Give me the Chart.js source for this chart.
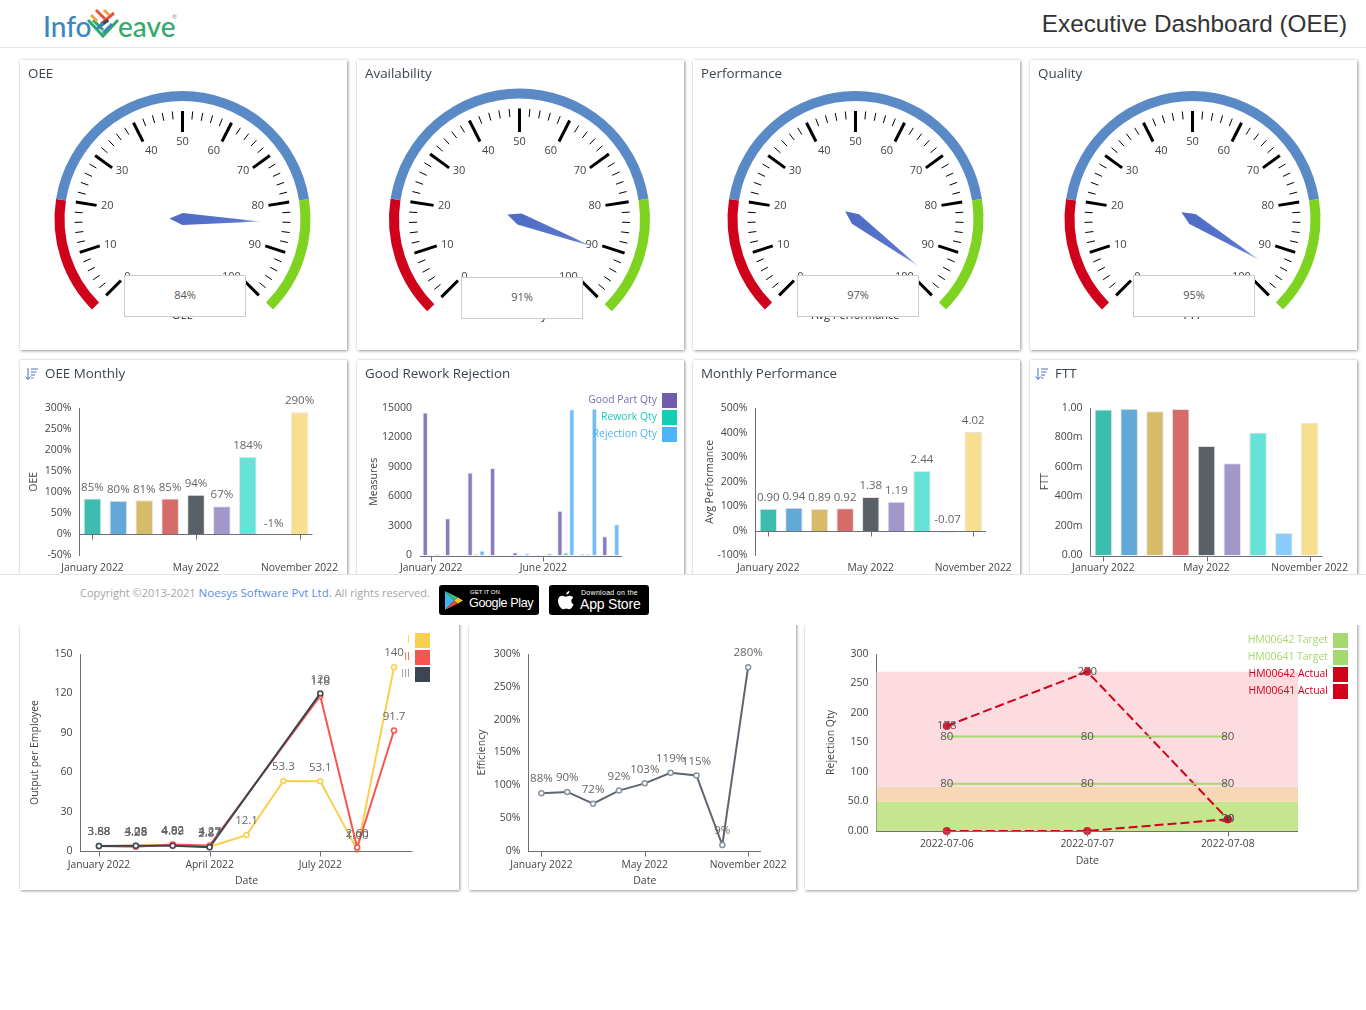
<!DOCTYPE html>
<html>
<head>
<meta charset="utf-8">
<title>Executive Dashboard (OEE)</title>
<script src="https://cdn.jsdelivr.net/npm/chart.js@4/dist/chart.umd.js"></script>
<style>
html, body { margin: 0; padding: 0; background: #fff; width: 1366px; height: 1010px; overflow: hidden; font-family: "Open Sans", sans-serif; }
#header { position: absolute; left: 0; top: 0; width: 1366px; height: 47px; border-bottom: 1px solid #e4e4e4; background: #fff; }
#pageTitle { position: absolute; right: 19px; top: 10px; font: 24.3px "Liberation Sans", Arial, sans-serif; color: #333; white-space: nowrap; }
.logoText { position: absolute; top: 9px; font: 500 28px Lato, sans-serif; white-space: nowrap; }
.card { position: absolute; background: #fff; box-shadow: 1px 1px 3px rgba(0,0,0,.38), 0 0 2px rgba(0,0,0,.12); }
.card canvas { position: absolute; left: 0; top: 0; }
.cardTitle { position: absolute; top: 3px; font-size: 13.4px; color: #3b4450; white-space: nowrap; line-height: 20px; }
.sortIcon { position: absolute; left: 5px; top: 8px; }
.gaugeBox { position: absolute; width: 120px; height: 40px; background: #fff; border: 1px solid #ccc; text-align: center; line-height: 38px; font-size: 11px; color: #555; }
.legend { position: absolute; right: 9px; }
.legendRow { height: 15px; margin-bottom: 2px; display: flex; justify-content: flex-end; align-items: center; font-size: 10.4px; white-space: nowrap; }
.legendRow span { position: relative; top: -2px; }
.legendRow i { display: inline-block; width: 15px; height: 15px; margin-left: 5px; }
#footer { position: absolute; left: 0; top: 574px; width: 1366px; height: 51px; background: #fff; border-top: 1px solid #e6e6e6; box-sizing: border-box; z-index: 5; }
#copyright { position: absolute; left: 80px; top: 10px; font-size: 11px; color: #a5a5a5; white-space: nowrap; line-height: 16px; }
#copyright span { color: #5b8def; font-size: 11.6px; }
.badge { position: absolute; top: 10px; width: 100px; height: 30px; background: #000; border-radius: 3px; color: #fff; font-family: "Liberation Sans", Arial, sans-serif; }
.badge b { position: absolute; font-weight: normal; white-space: nowrap; }
.badge svg { position: absolute; }
</style>
</head>
<body>

<div id="header">
  <div class="logoText" style="left:43px;color:#3a87bf">Info</div>
  <svg style="position:absolute;left:0;top:0" width="200" height="47" fill="none" stroke-width="3">
    <polyline points="88,20 103,36 118,20" stroke="#34a96a"/>
    <polyline points="93,20 103,30" stroke="#34a96a"/>
    <line x1="91" y1="15" x2="97" y2="21" stroke="#f2a53c"/>
    <line x1="104" y1="10" x2="109" y2="15" stroke="#f2a53c"/>
    <line x1="96" y1="10" x2="108" y2="22" stroke="#e2583e"/>
    <line x1="101" y1="24" x2="114" y2="13" stroke="#e2583e"/>
    <line x1="99" y1="27" x2="108" y2="20" stroke="#3a4653"/>
    <line x1="97" y1="29" x2="103" y2="23" stroke="#3a87bf"/>
    <line x1="103" y1="33" x2="112" y2="24" stroke="#3a87bf"/>
  </svg>
  <div class="logoText" style="left:118px;color:#34a96a">eave</div>
  <div style="position:absolute;left:172px;top:13px;font-size:6px;color:#888">®</div>
  <div id="pageTitle">Executive Dashboard (OEE)</div>
</div>

<div class="card" style="left:20px;top:60px;width:327px;height:290px"><canvas id="gauge0" width="327" height="290"></canvas><div class="cardTitle" style="left:8px">OEE</div><div class="gaugeBox" style="left:104px;top:215px">84%</div></div>
<div class="card" style="left:357px;top:60px;width:327px;height:290px"><canvas id="gauge1" width="327" height="290"></canvas><div class="cardTitle" style="left:8px">Availability</div><div class="gaugeBox" style="left:104px;top:217px;line-height:37px">91%</div></div>
<div class="card" style="left:693px;top:60px;width:327px;height:290px"><canvas id="gauge2" width="327" height="290"></canvas><div class="cardTitle" style="left:8px">Performance</div><div class="gaugeBox" style="left:104px;top:215px">97%</div></div>
<div class="card" style="left:1030px;top:60px;width:327px;height:290px"><canvas id="gauge3" width="327" height="290"></canvas><div class="cardTitle" style="left:8px">Quality</div><div class="gaugeBox" style="left:103px;top:215px">95%</div></div>

<div class="card" style="left:20px;top:360px;width:327px;height:260px"><canvas id="oeeMonthlyChart" width="327" height="260"></canvas><svg class="sortIcon" width="13" height="13" viewBox="0 0 13 13"><path d="M3 0v11M0.5 8.500L3 11.500L5.500 8.500M6 1h7M6 4h5.500M6 7h4M6 10h2.500" stroke="#4a6fc0" fill="none"/></svg><div class="cardTitle" style="left:25px">OEE Monthly</div></div>
<div class="card" style="left:357px;top:360px;width:327px;height:260px"><canvas id="goodReworkChart" width="327" height="260"></canvas><div class="cardTitle" style="left:8px">Good Rework Rejection</div><div class="legend" id="goodReworkLegend" style="top:33px;right:7px"></div></div>
<div class="card" style="left:693px;top:360px;width:327px;height:260px"><canvas id="perfChart" width="327" height="260"></canvas><div class="cardTitle" style="left:8px">Monthly Performance</div></div>
<div class="card" style="left:1030px;top:360px;width:327px;height:260px"><canvas id="fttChart" width="327" height="260"></canvas><svg class="sortIcon" width="13" height="13" viewBox="0 0 13 13"><path d="M3 0v11M0.5 8.500L3 11.500L5.500 8.500M6 1h7M6 4h5.500M6 7h4M6 10h2.500" stroke="#4a6fc0" fill="none"/></svg><div class="cardTitle" style="left:25px">FTT</div></div>

<div class="card" style="left:20px;top:600px;width:439px;height:290px"><canvas id="outputChart" width="439" height="290"></canvas><div class="legend" id="outputLegend" style="top:33px;right:29px"></div></div>
<div class="card" style="left:469px;top:600px;width:327px;height:290px"><canvas id="efficiencyChart" width="327" height="290"></canvas></div>
<div class="card" style="left:805px;top:600px;width:552px;height:290px"><canvas id="rejectionChart" width="552" height="290"></canvas><div class="legend" id="rejectionLegend" style="top:33px;right:9px"></div></div>

<div id="footer">
  <div id="copyright">Copyright ©2013-2021 <span>Noesys Software Pvt Ltd.</span> All rights reserved.</div>
  <div class="badge" style="left:439px">
    <svg style="left:6px;top:6px" width="18" height="19" viewBox="0 0 18 19"><polygon points="0,0 9,9.500 0,19" fill="#3bb6f0"/><polygon points="0,0 13,6.500 9,9.500" fill="#35c46f"/><polygon points="0,19 13,12.500 9,9.500" fill="#e8434f"/><polygon points="13,6.500 18,9.500 13,12.500 9,9.500" fill="#f8c22e"/></svg>
    <b style="left:31px;top:4px;font-size:6px">GET IT ON</b>
    <b style="left:30px;top:11px;font-size:12.6px;letter-spacing:-.4px">Google Play</b>
  </div>
  <div class="badge" style="left:549px">
    <svg style="left:8px;top:5px" width="18" height="20" viewBox="0 0 18 20"><path d="M12.500 1c.1 1.900-1.500 3.600-3.300 3.500C9 2.800 10.800 1.100 12.500 1zM16.500 14.500c-1 2.500-2.500 4.700-4 4.700-1.300 0-1.700-.8-3.200-.8s-2 .8-3.200.8C4 19.200 1 14.800 1 10.800 1 7.600 3.100 5.800 5.200 5.800c1.400 0 2.600.9 3.400.9.800 0 2.200-1 3.800-1 1.200 0 2.900.5 3.900 2.100-2.900 1.700-2.400 5.500.6 6.700z" fill="#fff"/></svg>
    <b style="left:32px;top:4px;font-size:7px;letter-spacing:.3px">Download on the</b>
    <b style="left:31px;top:11px;font-size:14px;letter-spacing:-.2px">App Store</b>
  </div>
</div>

<script>
'use strict';
// Chart values
const months = ['January 2022', 'February 2022', 'March 2022', 'April 2022', 'May 2022', 'June 2022', 'July 2022', 'October 2022', 'November 2022'];
const dates = ['2022-07-06', '2022-07-07', '2022-07-08'];

const gaugeNames = ['OEE', 'Availability', 'Avg Performance', 'FTT'];
const gaugeValues = [84, 91, 97, 95];
const gaugeBands = [20, 60, 20];

const oeeValues = [85, 80, 81, 85, 94, 67, 184, -1, 290];
const oeeTicks = ['-50%', '0%', '50%', '100%', '150%', '200%', '250%', '300%'];

const goodPartQty = [14530, 3780, 8450, 8890, 340, 100, 4560, 150, 1960];
const reworkQty = [100, 30, 150, 30, 100, 50, 320, 170, 80];
const rejectionQty = [150, 30, 500, 80, 220, 230, 14870, 14950, 3180];
const measureTicks = ['0', '3000', '6000', '9000', '12000', '15000'];

const perfValues = [0.90, 0.94, 0.89, 0.92, 1.38, 1.19, 2.44, -0.07, 4.02];
const perfTicks = ['-100%', '0%', '100%', '200%', '300%', '400%', '500%'];

const fttValues = [0.989, 0.995, 0.978, 0.993, 0.742, 0.625, 0.834, 0.153, 0.899];
const fttTicks = ['0.00', '200m', '400m', '600m', '800m', '1.00'];

const outputI = [3.68, 4.28, 4.82, 3.27, 12.1, 53.3, 53.1, 1.00, 140];
const outputII = [3.88, 3.28, 4.92, 4.27, null, null, 118, 2.60, 91.7];
const outputIII = [3.88, 4.05, 4.09, 2.87, null, null, 120, null, null];
const outputTicks = ['0', '30', '60', '90', '120', '150'];

const efficiencyValues = [88, 90, 72, 92, 103, 119, 115, 9, 280];
const efficiencyTicks = ['0%', '50%', '100%', '150%', '200%', '250%', '300%'];

const target642 = [80, 80, 80];
const target641 = [80, 80, 80];
const actual642 = [0, 0, 20];
const actual641 = [178, 270, 20];
const rejectionTicks = ['0.00', '50.0', '100', '150', '200', '250', '300'];
const rejectionZones = [0, 50, 75, 270];

const barColors = ['#3dbcb0', '#62a9d8', '#d6bc69', '#d66c6a', '#596068', '#a296ca', '#66e3d8', '#8accfb', '#f8df8f'];
const zoneColors = ['#c5e58e', '#f6d8b4', '#fddcdf'];
const axisColor = '#6e7079';
const tickFont = { family: 'Open Sans', size: 10.5 };
const xTickFont = { family: 'Open Sans', size: 10.3 };
const labelFont = '11.5px "Open Sans"';

Chart.defaults.animation = false;
Chart.defaults.responsive = false;
Chart.defaults.font.family = 'Open Sans';

// Value labels above bars and points (no datalabels plugin here)
const valueLabels = {
    id: 'valueLabels',
    afterDatasetsDraw(chart, args, opts) {
        if (!opts.format) return;
        const ctx = chart.ctx;
        ctx.save();
        ctx.font = labelFont;
        ctx.fillStyle = opts.color || '#666';
        ctx.textAlign = 'center';
        ctx.textBaseline = 'middle';
        chart.data.datasets.forEach((ds, d) => {
            chart.getDatasetMeta(d).data.forEach((el, i) => {
                const v = ds.data[i];
                if (v === null || (opts.center && v === 0)) return;
                const base = el.base === undefined ? el.y : Math.min(el.y, el.base);
                ctx.fillText(opts.format(v), el.x, opts.center ? el.y : base - opts.gap);
            });
        });
        ctx.restore();
    }
};

// x axis line at value 0, with tick marks only under the labelled categories
const zeroAxis = {
    id: 'zeroAxis',
    afterDatasetsDraw(chart, args, opts) {
        const ctx = chart.ctx, x = chart.scales.x, y = Math.round(chart.scales.y.getPixelForValue(0)) + 0.5;
        ctx.save();
        ctx.strokeStyle = axisColor;
        ctx.lineWidth = 1;
        ctx.beginPath();
        ctx.moveTo(x.left, y);
        ctx.lineTo(x.right, y);
        opts.shown.forEach(i => {
            const px = Math.round(x.getPixelForValue(i)) + 0.5;
            ctx.moveTo(px, y);
            ctx.lineTo(px, y + 5);
        });
        ctx.stroke();
        ctx.restore();
    }
};

// Coloured zones behind the rejection lines
const zoneBands = {
    id: 'zoneBands',
    beforeDatasetsDraw(chart, args, opts) {
        if (!opts.edges) return;
        const ctx = chart.ctx, area = chart.chartArea, y = chart.scales.y;
        ctx.save();
        opts.colors.forEach((c, i) => {
            const top = y.getPixelForValue(opts.edges[i + 1]), bottom = y.getPixelForValue(opts.edges[i]);
            ctx.fillStyle = c;
            ctx.fillRect(area.left, top, area.right - area.left, bottom - top);
        });
        ctx.restore();
    }
};

// Dial marks, numbers and needle over the doughnut arc
const gaugeDial = {
    id: 'gaugeDial',
    afterDatasetsDraw(chart, args, opts) {
        if (opts.value === undefined) return;
        const ctx = chart.ctx, arc = chart.getDatasetMeta(0).data[0];
        const cx = arc.x, cy = arc.y, outer = arc.outerRadius - 20;
        const angle = v => (-225 + v * 2.7) * Math.PI / 180;
        ctx.save();
        ctx.strokeStyle = '#000';
        ctx.font = '11px "Open Sans"';
        for (let v = 0; v <= 100; v += 2) {
            const major = v % 10 === 0, a = angle(v), ux = Math.cos(a), uy = Math.sin(a);
            const r0 = major ? 87 : outer - 8;
            ctx.lineWidth = major ? 3 : 1;
            ctx.beginPath();
            ctx.moveTo(cx + ux * r0, cy + uy * r0);
            ctx.lineTo(cx + ux * outer, cy + uy * outer);
            ctx.stroke();
            if (major) {
                // alignment follows the side of the dial the number sits on
                ctx.fillStyle = '#444';
                ctx.textAlign = ux < -0.4 ? 'left' : (ux > 0.4 ? 'right' : 'center');
                ctx.textBaseline = uy < -0.8 ? 'top' : (uy > 0.8 ? 'bottom' : 'middle');
                ctx.fillText(String(v), cx + ux * 82.5, cy + uy * 82.5);
            }
        }
        ctx.fillStyle = '#222';
        ctx.textAlign = 'center';
        ctx.textBaseline = 'middle';
        ctx.fillText(opts.name, cx, cy + 97);
        // needle
        const a = angle(opts.value);
        const grad = ctx.createLinearGradient(cx, cy, cx + Math.cos(a) * 78, cy + Math.sin(a) * 78);
        grad.addColorStop(0, '#4f6cc6');
        grad.addColorStop(0.75, '#5c78cc');
        grad.addColorStop(1, '#b8c6ee');
        ctx.fillStyle = grad;
        ctx.beginPath();
        ctx.moveTo(cx + Math.cos(a) * 78, cy + Math.sin(a) * 78);
        ctx.lineTo(cx + Math.cos(a + 1.57) * 6, cy + Math.sin(a + 1.57) * 6);
        ctx.lineTo(cx - Math.cos(a) * 13, cy - Math.sin(a) * 13);
        ctx.lineTo(cx + Math.cos(a - 1.57) * 6, cy + Math.sin(a - 1.57) * 6);
        ctx.closePath();
        ctx.fill();
        ctx.restore();
    }
};

function renderGauge(id, card, cx, cy, r, name, value) {
    new Chart(document.getElementById(id), {
        type: 'doughnut',
        plugins: [gaugeDial],
        data: { labels: ['Low', 'Mid', 'High'], datasets: [{ data: gaugeBands, backgroundColor: ['#d0021b', '#5a8ac6', '#7ed321'], borderWidth: 0 }] },
        options: {
            rotation: -135,
            circumference: 270,
            cutout: ((r - 10) / r * 100) + '%',
            layout: {
                autoPadding: false,
                padding: { left: cx - r - card.x, right: card.x + card.w - cx - r, top: cy - r - card.y, bottom: card.y + card.h - cy - r * 0.7071 }
            },
            plugins: { legend: { display: false }, tooltip: { enabled: false }, gaugeDial: { value: value, name: name } }
        }
    });
}

function renderXY(id, card, plot, type, labels, datasets, o) {
    const yWidth = plot.l - o.yTitleX + 6.6;
    const xHeight = o.xTitle ? o.xTitleY + 6.6 - plot.b : 30;
    new Chart(document.getElementById(id), {
        type: type,
        plugins: [zoneBands, zeroAxis, valueLabels],
        data: { labels: labels, datasets: datasets },
        options: {
            layout: {
                autoPadding: false,
                padding: { left: plot.l - yWidth - card.x, top: plot.t - card.y, right: card.x + card.w - plot.r, bottom: card.y + card.h - plot.b - xHeight }
            },
            scales: {
                x: {
                    offset: true,
                    afterFit(s) { s.height = xHeight; },
                    grid: { display: false, drawTicks: false },
                    border: { display: false },
                    title: { display: !!o.xTitle, text: o.xTitle, color: '#444', font: { size: 10.5 }, padding: 0 },
                    ticks: {
                        autoSkip: false, maxRotation: 0, padding: o.xPad, color: '#444', font: xTickFont,
                        callback(v, i) { return o.shown.includes(i) ? this.getLabelForValue(v) : ''; }
                    }
                },
                y: {
                    min: o.yMin, max: o.yMax, stacked: !!o.stacked,
                    afterFit(s) { s.width = yWidth; },
                    grid: { display: false, drawTicks: false },
                    border: { display: o.yLine !== false, color: axisColor },
                    title: { display: true, text: o.yTitle, color: '#444', font: { size: 10.5 }, padding: 0 },
                    ticks: {
                        stepSize: o.yStep, padding: 8, color: '#444', font: tickFont,
                        callback(v, i) { return o.yTicks[i]; }
                    }
                }
            },
            plugins: {
                legend: { display: false },
                tooltip: { enabled: false },
                zeroAxis: { shown: o.shown },
                zoneBands: o.zones || {},
                valueLabels: o.labels || {}
            }
        }
    });
}

function renderLegend(id, names, colors, textColors) {
    document.getElementById(id).innerHTML = names.map((n, i) =>
        `<div class="legendRow" style="color:${textColors[i]}"><span>${n}</span><i style="background:${colors[i]}"></i></div>`).join('');
}

function monthBars(values, colors) {
    return [{ data: values, backgroundColor: colors, borderColor: '#e4e4e4', borderWidth: 1, categoryPercentage: 1, barPercentage: 0.68 }];
}

function qtyBars(values, color) {
    return { data: values, backgroundColor: color, borderColor: '#e8eef5', borderWidth: 1 };
}

function outputLine(values, color, order) {
    return { data: values, order: order, borderColor: color, borderWidth: 2, tension: 0, spanGaps: true, clip: false,
        pointRadius: 2.5, pointBackgroundColor: '#fff', pointBorderColor: color, pointBorderWidth: 1.5 };
}

function actualLine(values, stack) {
    return { data: values, stack: stack, borderColor: '#d0021b', borderWidth: 2, borderDash: [9, 4], tension: 0, clip: false,
        pointRadius: 4, pointBackgroundColor: 'rgba(208,2,27,.85)', pointBorderColor: 'rgba(208,2,27,.85)', pointBorderWidth: 0 };
}

function targetLine(values) {
    return { data: values, stack: 'target', borderColor: '#a5d86e', borderWidth: 2, tension: 0, pointRadius: 0 };
}

function initialize() {
    const gaugeCards = [
        { x: 20, y: 60, w: 327, h: 290, cx: 182.5, cy: 219, r: 128 },
        { x: 357, y: 60, w: 327, h: 290, cx: 519.5, cy: 219, r: 130.5 },
        { x: 693, y: 60, w: 327, h: 290, cx: 855.5, cy: 219, r: 128 },
        { x: 1030, y: 60, w: 327, h: 290, cx: 1192.5, cy: 219, r: 128 }
    ];
    gaugeCards.forEach((c, i) => renderGauge('gauge' + i, c, c.cx, c.cy, c.r, gaugeNames[i], gaugeValues[i]));

    const rowTwo = x => ({ x: x, y: 360, w: 327, h: 260 });

    renderXY('oeeMonthlyChart', rowTwo(20), { l: 79.5, t: 408, r: 312.5, b: 555.5 }, 'bar', months, monthBars(oeeValues, barColors), {
        yMin: -50, yMax: 300, yStep: 50, yTicks: oeeTicks, yTitle: 'OEE', yTitleX: 34, xPad: 6, shown: [0, 4, 8],
        labels: { format: v => v + '%', gap: 11 }
    });

    renderXY('goodReworkChart', rowTwo(357), { l: 420, t: 408, r: 622, b: 555.5 }, 'bar', months,
        [qtyBars(goodPartQty, '#8a7bbd'), qtyBars(reworkQty, '#5fdcc8'), qtyBars(rejectionQty, '#70bdf8')], {
        yMin: 0, yMax: 15000, yStep: 3000, yTicks: measureTicks, yTitle: 'Measures', yTitleX: 374, yLine: false, xPad: 6, shown: [0, 5]
    });
    renderLegend('goodReworkLegend', ['Good Part Qty', 'Rework Qty', 'Rejection Qty'], ['#6f5cad', '#14cfb6', '#4db3fa'], ['#7b69b5', '#14cfb6', '#4db3fa']);

    renderXY('perfChart', rowTwo(693), { l: 755.5, t: 408, r: 986, b: 555.5 }, 'bar', months, monthBars(perfValues, barColors), {
        yMin: -1, yMax: 5, yStep: 1, yTicks: perfTicks, yTitle: 'Avg Performance', yTitleX: 710, xPad: 6, shown: [0, 4, 8],
        labels: { format: v => v.toFixed(2), gap: 11 }
    });

    renderXY('fttChart', rowTwo(1030), { l: 1090.5, t: 408, r: 1322.5, b: 555.5 }, 'bar', months, monthBars(fttValues, barColors), {
        yMin: 0, yMax: 1, yStep: 0.2, yTicks: fttTicks, yTitle: 'FTT', yTitleX: 1045, xPad: 6, shown: [0, 4, 8]
    });

    renderXY('outputChart', { x: 20, y: 600, w: 439, h: 290 }, { l: 80.5, t: 654, r: 412.5, b: 851 }, 'line', months,
        [outputLine(outputI, '#f9cf4e', 3), outputLine(outputII, '#f7564f', 2), outputLine(outputIII, '#3a4653', 1)], {
        yMin: 0, yMax: 150, yStep: 30, yTicks: outputTicks, yTitle: 'Output per Employee', yTitleX: 35, xTitle: 'Date', xTitleY: 881, xPad: 7.5, shown: [0, 3, 6],
        labels: { format: v => v.toPrecision(3), gap: 14 }
    });
    renderLegend('outputLegend', ['I', 'II', 'III'], ['#f9cf4e', '#f7564f', '#3a4653'], ['#f9cf4e', '#f7564f', '#8a929a']);

    renderXY('efficiencyChart', { x: 469, y: 600, w: 327, h: 290 }, { l: 528.5, t: 654, r: 761.5, b: 851 }, 'line', months,
        [{ data: efficiencyValues, borderColor: '#5c6670', borderWidth: 2, tension: 0, clip: false, pointRadius: 2.5, pointBackgroundColor: '#fff', pointBorderColor: '#8a94a0', pointBorderWidth: 1.5 }], {
        yMin: 0, yMax: 300, yStep: 50, yTicks: efficiencyTicks, yTitle: 'Efficiency', yTitleX: 482, xTitle: 'Date', xTitleY: 881, xPad: 7.5, shown: [0, 4, 8],
        labels: { format: v => v + '%', gap: 14 }
    });

    renderXY('rejectionChart', { x: 805, y: 600, w: 552, h: 290 }, { l: 876.5, t: 654, r: 1298, b: 831 }, 'line', dates,
        [targetLine(target642), targetLine(target641), actualLine(actual642, 'a'), actualLine(actual641, 'b')], {
        yMin: 0, yMax: 300, yStep: 50, yTicks: rejectionTicks, yTitle: 'Rejection Qty', yTitleX: 831, xTitle: 'Date', xTitleY: 861, xPad: 6.5, shown: [0, 1, 2], stacked: true,
        zones: { edges: rejectionZones, colors: zoneColors },
        labels: { format: v => String(v), center: true, color: '#555', gap: 0 }
    });
    renderLegend('rejectionLegend', ['HM00642 Target', 'HM00641 Target', 'HM00642 Actual', 'HM00641 Actual'],
        ['#a5d86e', '#a5d86e', '#d0021b', '#d0021b'], ['#a5d86e', '#a5d86e', '#d0021b', '#d0021b']);
}

initialize();
</script>
</body>
</html>
